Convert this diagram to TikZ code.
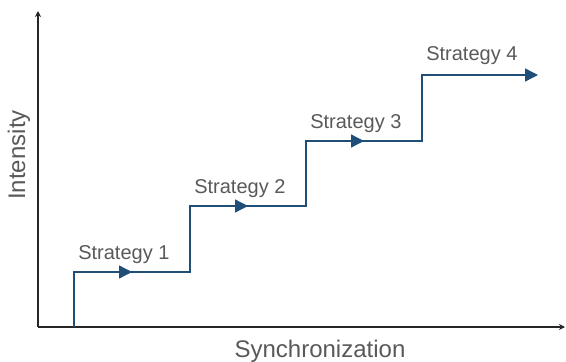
\documentclass[tikz,border=0pt]{standalone}
\usepackage{fontspec}
\setmainfont{Liberation Sans}
\usetikzlibrary{arrows.meta,calc,positioning}
\definecolor{stairblue}{HTML}{1F4E79}
\definecolor{labelgray}{HTML}{595959}
\definecolor{axisgray}{HTML}{262626}
\tikzstyle{axis}=[draw=axisgray,line width=1.8pt,-{Stealth[length=6pt,width=6pt]}]
\tikzstyle{stair}=[draw=stairblue,line width=1.4pt,line join=miter]
\tikzstyle{stairtip}=[stair,-{Triangle[length=13pt,width=13pt]}]
\tikzstyle{stratlabel}=[text=labelgray,font=\fontsize{20pt}{22pt}\selectfont,anchor=base,inner sep=0pt]
\tikzstyle{axislabel}=[text=labelgray,font=\fontsize{24pt}{26pt}\selectfont,anchor=base,inner sep=0pt]

\begin{document}
\begin{tikzpicture}[x=1pt,y=-1pt]
  \useasboundingbox (0,0) rectangle (566,362);
  % axes
  \coordinate (O) at (38,327);
  \coordinate (ytip) at (38,11);
  \coordinate (xtip) at (565,327);
  \draw[axis] (O) -- (ytip);
  \draw[axis] (O) -- (xtip);
  \node[axislabel] (xlab) at (320,357) {Synchronization};
  \node[axislabel,rotate=90] (ylab) at (25,155) {Intensity};

  % the stair
  \coordinate (c0) at (74,327);
  \coordinate (c1) at (74,272);
  \coordinate (c2) at (190,272);
  \coordinate (c3) at (190,206);
  \coordinate (c4) at (306,206);
  \coordinate (c5) at (306,141);
  \coordinate (c6) at (422,141);
  \coordinate (c7) at (422,75);
  \coordinate (c8) at (538,75);
  \draw[stairtip] (c0) -- (c1) -- (c2) -- (c3) -- (c4) -- (c5) -- (c6) -- (c7) -- (c8);
  \draw[stairtip] (c1) -- ($(c1)!0.5!(c2)$);
  \draw[stairtip] (c3) -- ($(c3)!0.5!(c4)$);
  \draw[stairtip] (c5) -- ($(c5)!0.5!(c6)$);

  % labels
  \node[stratlabel] (s1) at ($(c1)!0.43!(c2)+(0,-13)$) {Strategy 1};
  \node[stratlabel] (s2) at ($(c3)!0.43!(c4)+(0,-13)$) {Strategy 2};
  \node[stratlabel] (s3) at ($(c5)!0.43!(c6)+(0,-13)$) {Strategy 3};
  \node[stratlabel] (s4) at ($(c7)!0.43!(c8)+(0,-15)$) {Strategy 4};
\end{tikzpicture}
\end{document}
